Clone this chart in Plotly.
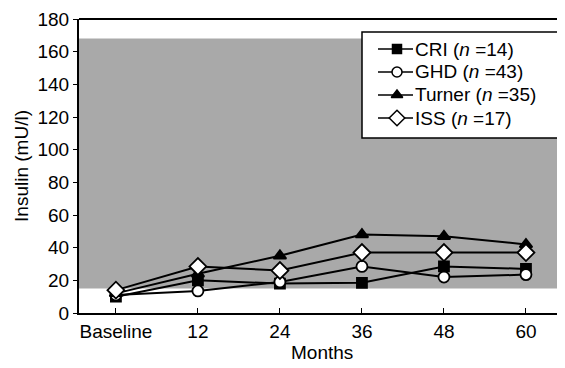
import plotly.graph_objects as go

months = ["Baseline", "12", "24", "36", "48", "60"]
x_pos = [0, 1, 2, 3, 4, 5]

cri = [10, 20, 18, 18.5, 28.5, 27]
ghd = [11, 13.5, 19, 28.5, 22, 23.5]
turner = [12, 24, 35, 48, 47, 42]
iss = [14, 28.5, 26, 37, 37, 37]

normal_low, normal_high = 15, 168

series = [
    ("CRI (<i>n</i> =14)", cri, "square", "black", 10),
    ("GHD (<i>n</i> =43)", ghd, "circle", "white", 11),
    ("Turner (<i>n</i> =35)", turner, "triangle-up", "black", 11),
    ("ISS (<i>n</i> =17)", iss, "diamond", "white", 13),
]

# The page body has an 8px margin, so the figure is drawn 8px in from the
# top-left corner; size it so it fills the 565x368 window exactly.
OFF = 8
W, H = 565 - OFF, 368 - OFF
ML, MR, MT, MB = 79 - OFF, 0, 19 - OFF, 55
PW, PH = W - ML - MR, H - MT - MB


def px_x(p):
    # window pixel -> paper fraction
    return (p - OFF - ML) / PW


def px_y(p):
    return (H - MB - (p - OFF)) / PH


fig = go.Figure()
for name, vals, sym, fill, size in series:
    fig.add_trace(go.Scatter(
        x=x_pos, y=vals, mode="lines+markers", name=name, showlegend=False,
        line=dict(color="black", width=2),
        marker=dict(symbol=sym, size=size, color=fill,
                    line=dict(color="black", width=1.8)),
        cliponaxis=False,
    ))

fig.add_shape(type="rect", xref="paper", yref="y", x0=0, x1=1,
              y0=normal_low, y1=normal_high, fillcolor="#a9a9a9",
              line=dict(width=0), layer="below")
# top frame line (paper refs so it is not clipped)
fig.add_shape(type="line", xref="paper", yref="paper", x0=0, x1=1, y0=1, y1=1,
              line=dict(color="black", width=2))

# legend (manual, compact rows as in the reference)
fig.add_shape(type="rect", xref="paper", yref="paper",
              x0=px_x(362), x1=px_x(561), y0=px_y(138), y1=px_y(32),
              fillcolor="white", line=dict(color="black", width=1.5), layer="below")
row_pix = [49, 72, 95, 118]
for (name, vals, sym, fill, size), rp in zip(series, row_pix):
    ry = px_y(rp)
    fig.add_shape(type="line", xref="paper", yref="paper",
                  x0=px_x(378), x1=px_x(413), y0=ry, y1=ry,
                  line=dict(color="black", width=1.5), layer="below")
    fig.add_trace(go.Scatter(
        x=[px_x(397)], y=[ry], mode="markers", showlegend=False, hoverinfo="skip",
        xaxis="x2", yaxis="y2",
        marker=dict(symbol=sym, size=size - 1, color=fill,
                    line=dict(color="black", width=1.5)),
    ))
    fig.add_annotation(xref="paper", yref="paper", x=px_x(414), y=ry,
                       xanchor="left", yanchor="middle", text=name,
                       showarrow=False, font=dict(size=19), borderpad=0)

# x-axis title placed as in the reference
fig.add_annotation(xref="paper", yref="paper", x=0.5, y=px_y(352),
                   xanchor="center", yanchor="middle", text="Months",
                   showarrow=False, font=dict(size=19), borderpad=0)

fig.update_layout(
    width=W, height=H,
    margin=dict(l=ML, r=MR, t=MT, b=MB),
    paper_bgcolor="white", plot_bgcolor="white",
    font=dict(family="Liberation Sans, Arial, sans-serif", size=19, color="black"),
    showlegend=False,
    xaxis=dict(range=[-0.45, 5.476], tickvals=x_pos, ticktext=months,
               showgrid=False, zeroline=False, showline=True,
               linecolor="black", linewidth=2, ticks="inside", ticklen=5,
               tickcolor="black", tickfont=dict(size=19), automargin=False,
               ticklabeloverflow="allow"),
    yaxis=dict(range=[0, 180], tickvals=list(range(0, 181, 20)),
               showgrid=False, zeroline=False, showline=True,
               linecolor="black", linewidth=2, ticks="outside", ticklen=4,
               tickcolor="black", tickfont=dict(size=19), automargin=False,
               ticklabeloverflow="allow",
               title=dict(text="Insulin (mU/l)", standoff=4, font=dict(size=19))),
    xaxis2=dict(overlaying="x", range=[0, 1], visible=False, fixedrange=True),
    yaxis2=dict(overlaying="y", range=[0, 1], visible=False, fixedrange=True),
)

fig.write_html("out.html")
